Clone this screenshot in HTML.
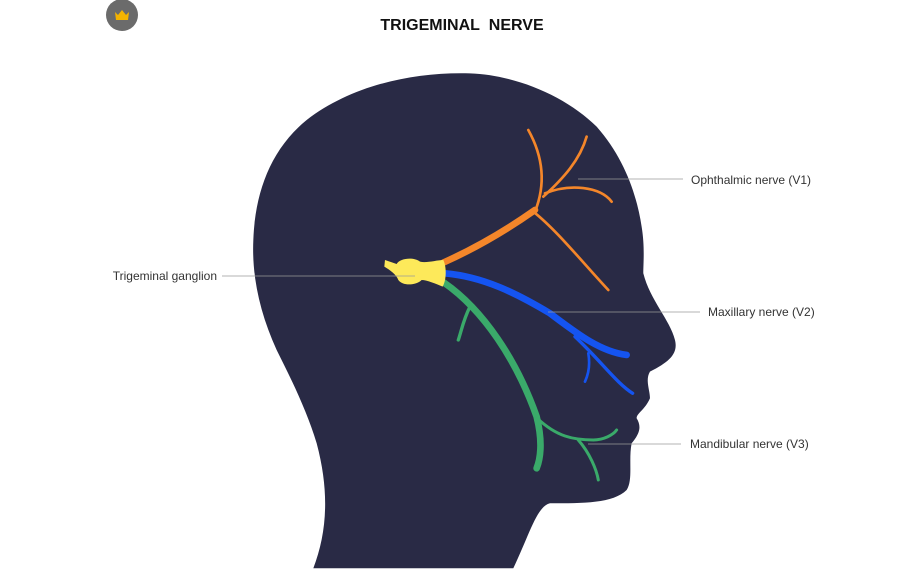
<!DOCTYPE html>
<html><head><meta charset="utf-8"><style>
html,body{margin:0;padding:0;background:#fff;width:923px;height:582px;overflow:hidden}
svg{display:block}
text{font-family:"Liberation Sans",sans-serif}
</style></head><body>
<svg width="923" height="582" viewBox="0 0 923 582" xmlns="http://www.w3.org/2000/svg">
<rect width="923" height="582" fill="#fff"/>
<circle cx="122" cy="15" r="16" fill="#6b6b6b"/>
<path d="M115,12 L118,15 L122,10 L126,15 L129,12 L128,20 L116,20 Z" fill="#f5b400"/>
<text x="462" y="30" text-anchor="middle" font-size="16" font-weight="bold" fill="#111">TRIGEMINAL&#160; NERVE</text>
<g transform="translate(250,60) scale(0.3333)">
<path fill="#292a45" d="M660,40 C800,45 950,110 1040,200 C1120,290 1160,400 1175,500 C1185,560 1180,610 1180,640 C1200,720 1260,780 1275,840 C1285,880 1260,905 1200,935 C1185,960 1200,990 1200,1015 C1185,1050 1160,1060 1160,1075 C1175,1100 1170,1120 1145,1150 C1135,1200 1150,1260 1130,1290 C1090,1330 1000,1330 900,1330 C860,1340 840,1420 790,1525 L190,1525 C230,1420 240,1300 200,1150 C170,1050 120,950 80,870 C30,760 5,650 10,540 C15,400 60,270 170,180 C300,80 480,35 660,40 Z"/>
<g fill="none" stroke-linecap="round">
<path d="M580,608 Q720,545 855,450" stroke="#f4862a" stroke-width="20"/>
<path d="M855,455 C885,380 885,300 835,210" stroke="#f4862a" stroke-width="8"/>
<path d="M880,410 C940,355 990,300 1010,230" stroke="#f4862a" stroke-width="8"/>
<path d="M885,400 C960,370 1050,380 1085,425" stroke="#f4862a" stroke-width="8"/>
<path d="M850,455 C920,510 1000,610 1075,690" stroke="#f4862a" stroke-width="8"/>
<path d="M585,640 C700,650 800,700 900,760 C980,820 1050,875 1130,885" stroke="#1554f0" stroke-width="20"/>
<path d="M975,830 C1050,900 1100,970 1148,1000" stroke="#1554f0" stroke-width="10"/>
<path d="M1015,880 C1022,920 1012,950 1005,965" stroke="#1554f0" stroke-width="8"/>
<path d="M582,668 C700,750 800,900 860,1070 C880,1150 870,1200 860,1225" stroke="#3aaa6a" stroke-width="20"/>
<path d="M862,1075 C920,1130 970,1140 1030,1140 C1060,1140 1090,1125 1100,1110" stroke="#3aaa6a" stroke-width="9"/>
<path d="M985,1140 C1020,1180 1040,1230 1045,1260" stroke="#3aaa6a" stroke-width="9"/>
<path d="M660,740 C640,780 635,810 625,840" stroke="#3aaa6a" stroke-width="10"/>
</g>
<path fill="#fde95a" d="M405,600 L440,612 C450,595 490,590 510,605 C530,610 560,600 580,600 C590,620 590,660 578,680 C560,672 530,660 515,660 C500,675 460,680 445,660 C440,645 420,630 403,620 Z"/>
</g>
<g stroke="#9a9a9a" stroke-width="0.8">
<line x1="578" y1="179" x2="683" y2="179"/>
<line x1="548" y1="312" x2="700" y2="312"/>
<line x1="588" y1="444" x2="681" y2="444"/>
<line x1="222" y1="276" x2="415" y2="276"/>
</g>
<g font-size="12" fill="#333">
<text x="691" y="184">Ophthalmic nerve (V1)</text>
<text x="708" y="316">Maxillary nerve (V2)</text>
<text x="690" y="448">Mandibular nerve (V3)</text>
<text x="217" y="280" text-anchor="end">Trigeminal ganglion</text>
</g>
</svg>
</body></html>
